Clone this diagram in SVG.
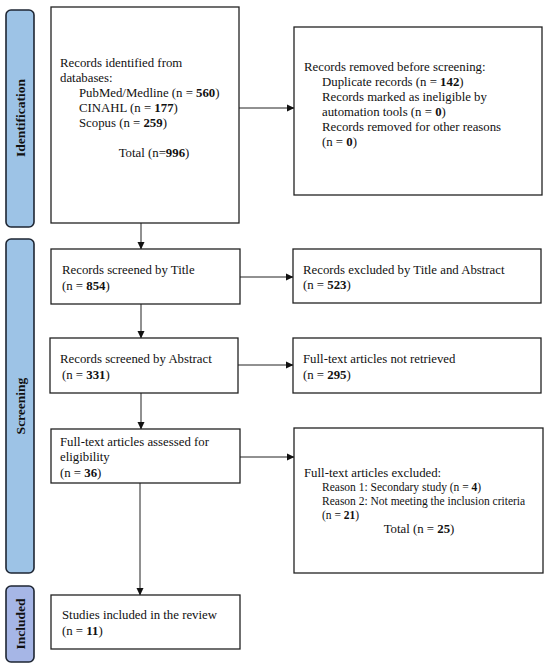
<svg xmlns="http://www.w3.org/2000/svg" width="550" height="669" viewBox="0 0 550 669">
<style>
.box{fill:#fff;stroke:#222;stroke-width:1.3}
.bar{stroke:#1e2633;stroke-width:1.6}
.blue{fill:#9dc3e6}
.lav{fill:#a6b6e6}
text{font-family:"Liberation Serif","Times New Roman",serif;font-size:12.8px;fill:#111}
.sm{font-size:11.5px}
.lbl{font-weight:bold;font-size:13.5px;text-anchor:middle}
.c{stroke:#222;stroke-width:1;fill:none}
.b{font-weight:bold}
</style>
<defs>
<marker id="ah" markerWidth="8" markerHeight="8" refX="7" refY="4" orient="auto" markerUnits="userSpaceOnUse">
<path d="M0,0.5 L7.5,4 L0,7.5 Z" fill="#111"/>
</marker>
</defs>
<rect width="550" height="669" fill="#fff"/>
<g id="phase-identification">
<rect class="bar blue" x="6" y="10" width="28" height="217" rx="5"/>
<text class="lbl" transform="translate(25,118) rotate(-90)">Identification</text>
</g>
<g id="phase-screening">
<rect class="bar blue" x="6" y="239" width="28" height="334" rx="5"/>
<text class="lbl" transform="translate(25,406) rotate(-90)">Screening</text>
</g>
<g id="phase-included">
<rect class="bar lav" x="6" y="586" width="28" height="76" rx="5"/>
<text class="lbl" transform="translate(25,624) rotate(-90)">Included</text>
</g>
<g id="connectors">
<line class="c" x1="239" y1="108" x2="294" y2="108" marker-end="url(#ah)"/>
<line class="c" x1="141" y1="223" x2="141" y2="249" marker-end="url(#ah)"/>
<line class="c" x1="240" y1="277" x2="293" y2="277" marker-end="url(#ah)"/>
<line class="c" x1="141" y1="304" x2="141" y2="338" marker-end="url(#ah)"/>
<line class="c" x1="238" y1="365" x2="293" y2="365" marker-end="url(#ah)"/>
<line class="c" x1="141" y1="393" x2="141" y2="429" marker-end="url(#ah)"/>
<line class="c" x1="240" y1="457" x2="294" y2="457" marker-end="url(#ah)"/>
<line class="c" x1="140" y1="483" x2="140" y2="595" marker-end="url(#ah)"/>
</g>
<g id="records-identified">
<rect class="box" x="51" y="7" width="188" height="216"/>
<text x="60" y="67">Records identified from</text>
<text x="60" y="82">databases:</text>
<text x="79" y="97">PubMed/Medline (n = <tspan class="b">560</tspan>)</text>
<text x="79" y="112">CINAHL (n = <tspan class="b">177</tspan>)</text>
<text x="79" y="127">Scopus (n = <tspan class="b">259</tspan>)</text>
<text x="154" y="157" text-anchor="middle">Total (n=<tspan class="b">996</tspan>)</text>
</g>
<g id="records-removed">
<rect class="box" x="294" y="27" width="248" height="168"/>
<text x="304" y="71">Records removed before screening:</text>
<text x="322" y="86">Duplicate records (n = <tspan class="b">142</tspan>)</text>
<text x="322" y="101">Records marked as ineligible by</text>
<text x="322" y="116">automation tools (n = <tspan class="b">0</tspan>)</text>
<text x="322" y="131">Records removed for other reasons</text>
<text x="322" y="146">(n = <tspan class="b">0</tspan>)</text>
</g>
<g id="screened-title">
<rect class="box" x="51" y="249" width="189" height="55"/>
<text x="62" y="274">Records screened by Title</text>
<text x="62" y="290">(n = <tspan class="b">854</tspan>)</text>
</g>
<g id="excluded-title-abstract">
<rect class="box" x="293" y="249" width="248" height="54"/>
<text x="303" y="274">Records excluded by Title and Abstract</text>
<text x="303" y="289">(n = <tspan class="b">523</tspan>)</text>
</g>
<g id="screened-abstract">
<rect class="box" x="50" y="338" width="188" height="55"/>
<text x="60" y="363">Records screened by Abstract</text>
<text x="62" y="379">(n = <tspan class="b">331</tspan>)</text>
</g>
<g id="not-retrieved">
<rect class="box" x="293" y="338" width="248" height="55"/>
<text x="303" y="363">Full-text articles not retrieved</text>
<text x="303" y="379">(n = <tspan class="b">295</tspan>)</text>
</g>
<g id="assessed">
<rect class="box" x="51" y="429" width="189" height="54"/>
<text x="60" y="446">Full-text articles assessed for</text>
<text x="60" y="461">eligibility</text>
<text x="60" y="477">(n = <tspan class="b">36</tspan>)</text>
</g>
<g id="excluded-fulltext">
<rect class="box" x="294" y="428" width="249" height="145"/>
<text x="304" y="477">Full-text articles excluded:</text>
<text class="sm" x="322" y="491">Reason 1: Secondary study (n = <tspan class="b">4</tspan>)</text>
<text class="sm" x="322" y="505">Reason 2: Not meeting the inclusion criteria</text>
<text class="sm" x="322" y="519">(n = <tspan class="b">21</tspan>)</text>
<text x="419" y="533" text-anchor="middle">Total (n = <tspan class="b">25</tspan>)</text>
</g>
<g id="included-studies">
<rect class="box" x="51" y="595" width="189" height="54"/>
<text x="62" y="619">Studies included in the review</text>
<text x="62" y="635">(n = <tspan class="b">11</tspan>)</text>
</g>
</svg>
